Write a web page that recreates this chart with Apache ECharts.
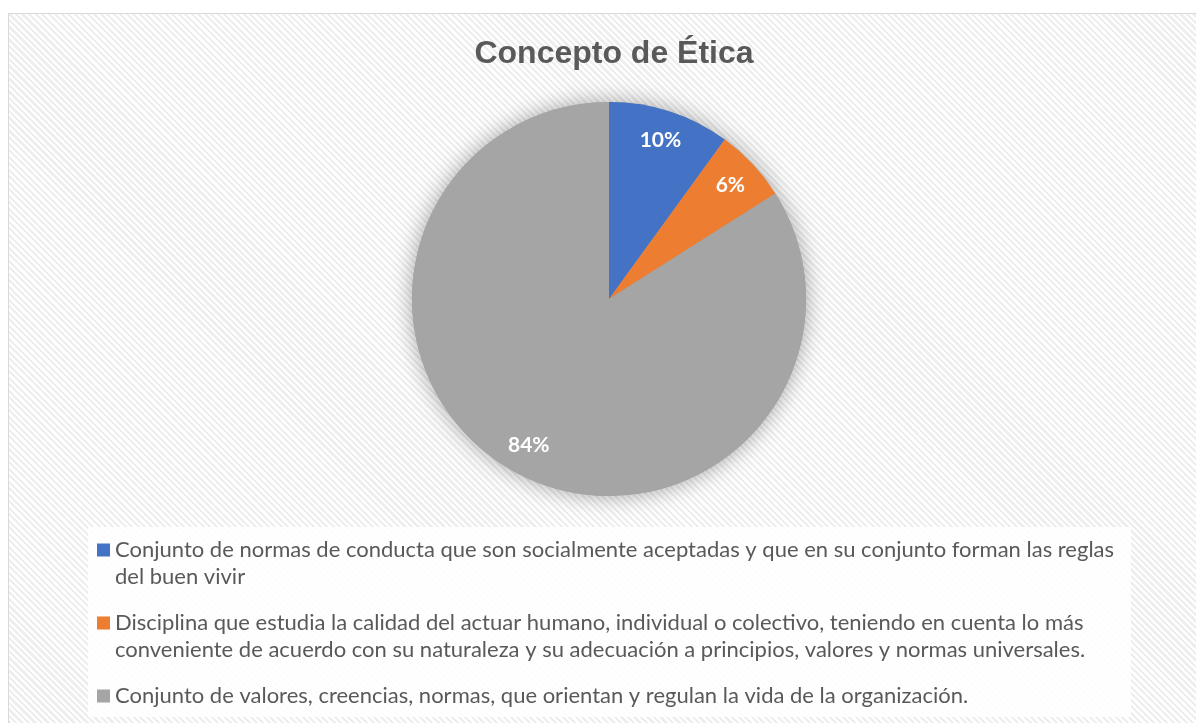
<!DOCTYPE html>
<html>
<head>
<meta charset="utf-8">
<script src="https://cdn.jsdelivr.net/npm/echarts@6/dist/echarts.min.js"></script>
<style>
  html, body { margin: 0; padding: 0; background: #fff; }
  #bg { position: absolute; left: 8px; top: 13px; width: 1200px; height: 720px;
        border: 1px solid #d9d9d9;
        background: repeating-linear-gradient(45deg, #ffffff 0px, #ffffff 2.4px, #eeeeee 2.4px, #eeeeee 4.6px); }
  #chart { position: absolute; left: 0; top: 0; width: 1196px; height: 723px; }
</style>
</head>
<body>
<div id="bg"></div>
<div id="chart"></div>
<script>
const titleText = 'Concepto de Ética';
const categories = [
  'Conjunto de normas de conducta que son socialmente aceptadas y que en su conjunto forman las reglas del buen vivir',
  'Disciplina que estudia la calidad del actuar humano, individual o colectivo, teniendo en cuenta lo más conveniente de acuerdo con su naturaleza y su adecuación a principios, valores y normas universales.',
  'Conjunto de valores, creencias, normas, que orientan y regulan la vida de la organización.'
];
const values = [10, 6, 84];
const colors = ['#4472c4', '#ed7d31', '#a5a5a5'];

const data = categories.map((c, i) => ({ name: c, value: values[i], itemStyle: { color: colors[i] } }));

const legendFont = { fontFamily: 'Lato, Noto Sans, sans-serif', fontSize: 22, color: '#595959',
                     width: 1013, overflow: 'break', lineHeight: 27 };
// square aligned with first text line for wrapped entries
const topSquare = 'path://M0,0h13v13h-13zM0,40h0.01v-0.01z';
const legendTops = [536.5, 609.5, 682.5];
const legends = categories.map((c, i) => {
  const wrapped = i < 2;
  return {
    orient: 'vertical', left: 97, top: legendTops[i], padding: 0,
    itemWidth: 13, itemHeight: wrapped ? 40 : 13, itemGap: 0,
    icon: wrapped ? topSquare : 'rect',
    data: [c],
    textStyle: legendFont
  };
});

const chart = echarts.init(document.getElementById('chart'), null, { renderer: 'canvas' });
chart.setOption({
  backgroundColor: 'transparent',
  animation: false,
  title: {
    text: titleText,
    left: 609, top: 33, textAlign: 'center',
    textStyle: { fontFamily: 'Liberation Sans, Arial', fontWeight: 'bold', fontSize: 32, color: '#595959' }
  },
  graphic: [{
    type: 'rect', z: -1, silent: true,
    shape: { x: 88, y: 527, width: 1043, height: 190 },
    style: { fill: 'rgba(255,255,255,0.85)' }
  }],
  legend: legends,
  series: [
    {
      type: 'pie', name: 'shadow', silent: true, z: 1,
      center: [609, 299], radius: 197, startAngle: 90, clockwise: true,
      label: { show: false }, labelLine: { show: false },
      itemStyle: { color: '#a5a5a5', shadowBlur: 22, shadowColor: 'rgba(0,0,0,0.35)' },
      data: values.map((v, i) => ({ name: 'shadow' + i, value: v })),
      legendHoverLink: false
    },
    {
      type: 'pie', z: 2,
      center: [609, 299], radius: 197, startAngle: 90, clockwise: true,
      label: { show: false }, labelLine: { show: false },
      itemStyle: { borderWidth: 0 },
      data: data
    },
    {
      type: 'pie', z: 3, silent: true,
      center: [609, 299], radius: [130, 197], startAngle: 90, clockwise: true,
      itemStyle: { color: 'transparent' },
      label: {
        show: true, position: 'inside', formatter: '{d}%',
        fontFamily: 'Lato, Noto Sans, sans-serif', fontWeight: 'bold', fontSize: 21, color: '#fff'
      },
      labelLine: { show: false },
      data: categories.map((c, i) => ({ name: c, value: values[i] }))
    }
  ]
});
</script>
</body>
</html>
